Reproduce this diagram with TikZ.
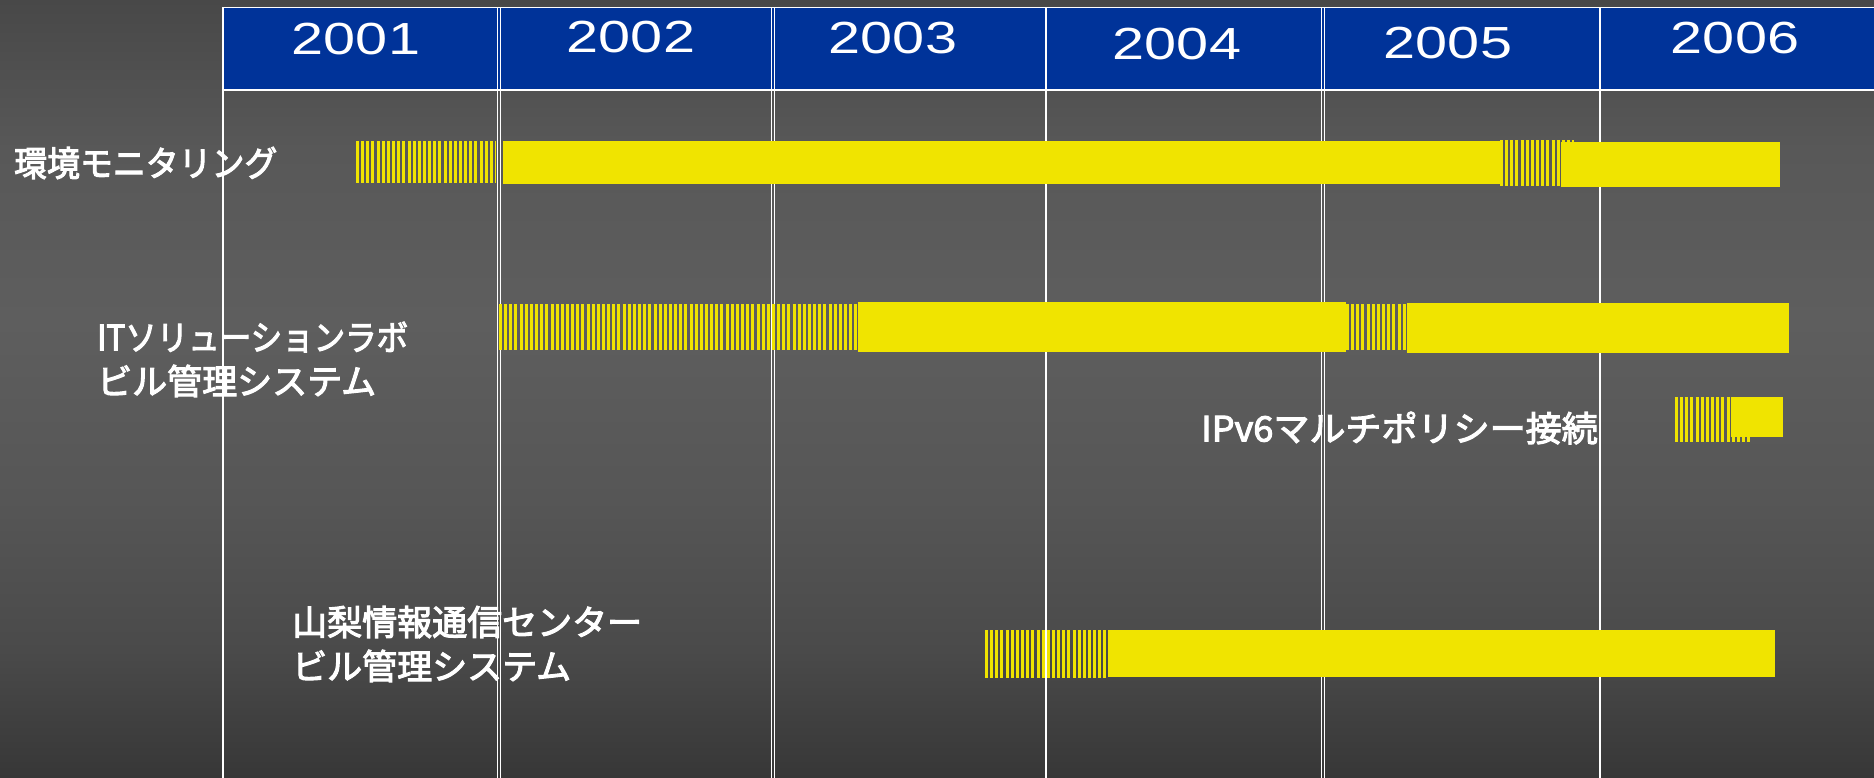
\documentclass[tikz,border=0pt]{standalone}
\usepackage{fontspec}
\usepackage{graphicx}
\setmainfont{Liberation Sans}
\newfontfamily\jpfont[FakeBold=3]{Noto Sans CJK JP}
\definecolor{hdrblue}{RGB}{0,51,153}
\definecolor{baryel}{RGB}{240,228,0}
\definecolor{bgA}{RGB}{55,55,55}
\definecolor{bgB}{RGB}{74,74,74}
\definecolor{bgC}{RGB}{86,86,86}
\definecolor{bgD}{RGB}{94,94,94}
\definecolor{bgE}{RGB}{88,88,88}
\definecolor{bgF}{RGB}{72,72,72}
\pgfdeclareverticalshading{bgshade}{100bp}{color(0bp)=(bgA); color(25bp)=(bgA); color(33.2bp)=(bgB); color(42.9bp)=(bgC); color(54.4bp)=(bgD); color(65.4bp)=(bgE); color(75bp)=(bgF); color(100bp)=(bgF)}
\begin{document}
\begin{tikzpicture}[x=1pt,y=-1pt,
  jp/.style={font=\jpfont\fontsize{35}{42}\selectfont, text=white, inner sep=0pt},
  year/.style={font=\fontsize{45}{54}\selectfont, text=white, inner sep=0pt},
  vline/.style={draw=white, line width=1.3pt},
  solidbar/.style={fill=baryel},
  hatchbar/.style={draw=baryel, dash pattern=on 3pt off 2.15pt}]
\useasboundingbox (0,0) rectangle (1874,778);
\shade[shading=bgshade] (0,0) rectangle (1874,778);
% header
\fill[hdrblue] (223,7.5) rectangle (1876,90);
\draw[white, line width=1.5pt] (1876,7.5) -- (223,7.5) -- (223,778);
\draw[white, line width=1.5pt] (223,90) -- (1876,90);
% column separators
\draw[vline] (497.5,7.5) -- (497.5,778);
\draw[vline] (500.5,7.5) -- (500.5,778);
\draw[vline] (771.5,7.5) -- (771.5,778);
\draw[vline] (774.5,7.5) -- (774.5,778);
\draw[white, line width=2pt] (1046,7.5) -- (1046,778);
\draw[vline] (1321.5,7.5) -- (1321.5,778);
\draw[vline] (1324.5,7.5) -- (1324.5,778);
\draw[white, line width=2pt] (1600,7.5) -- (1600,778);
% years
\node[year] (y2001) at (356,39) {\scalebox{1.28}[1]{2001}};
\node[year] (y2002) at (631,37.5) {\scalebox{1.28}[1]{2002}};
\node[year] (y2003) at (893,38) {\scalebox{1.28}[1]{2003}};
\node[year] (y2004) at (1177,44) {\scalebox{1.28}[1]{2004}};
\node[year] (y2005) at (1448,43) {\scalebox{1.28}[1]{2005}};
\node[year] (y2006) at (1735,38) {\scalebox{1.28}[1]{2006}};
% row 1
\draw[hatchbar, line width=42pt] (356,162) -- (496,162);
\draw[hatchbar, line width=46pt] (1500,163) -- (1574,163);
\fill[solidbar] (503,141) rectangle (1500,184);
\fill[solidbar] (1561,142) rectangle (1780,187);
% row 2
\draw[hatchbar, line width=46pt] (499,327) -- (858,327);
\draw[hatchbar, line width=46pt] (1346,327) -- (1407,327);
\fill[solidbar] (858,302) rectangle (1346,352);
\fill[solidbar] (1407,303) rectangle (1789,353);
% row 3
\draw[hatchbar, line width=45pt] (1675,419.5) -- (1751,419.5);
\fill[solidbar] (1731,397) rectangle (1783,437);
% row 4
\draw[hatchbar, line width=48pt] (985,654) -- (1108,654);
\fill[solidbar] (1108,630) rectangle (1775,677);
% labels
\node[jp, anchor=west] (env) at (14,163) {\scalebox{0.94}[1]{環境モニタリング}};
\node[jp, anchor=west] (itlab1) at (97,337) {\scalebox{0.9}[1]{ITソリューションラボ}};
\node[jp, anchor=west] (itlab2) at (97,381) {ビル管理システム};
\node[jp, anchor=east] (ipv6) at (1598,428) {\scalebox{1.03}[1]{IPv6マルチポリシー接続}};
\node[jp, anchor=west] (yam1) at (292,622) {山梨情報通信センター};
\node[jp, anchor=west] (yam2) at (292,666) {ビル管理システム};
\end{tikzpicture}
\end{document}
